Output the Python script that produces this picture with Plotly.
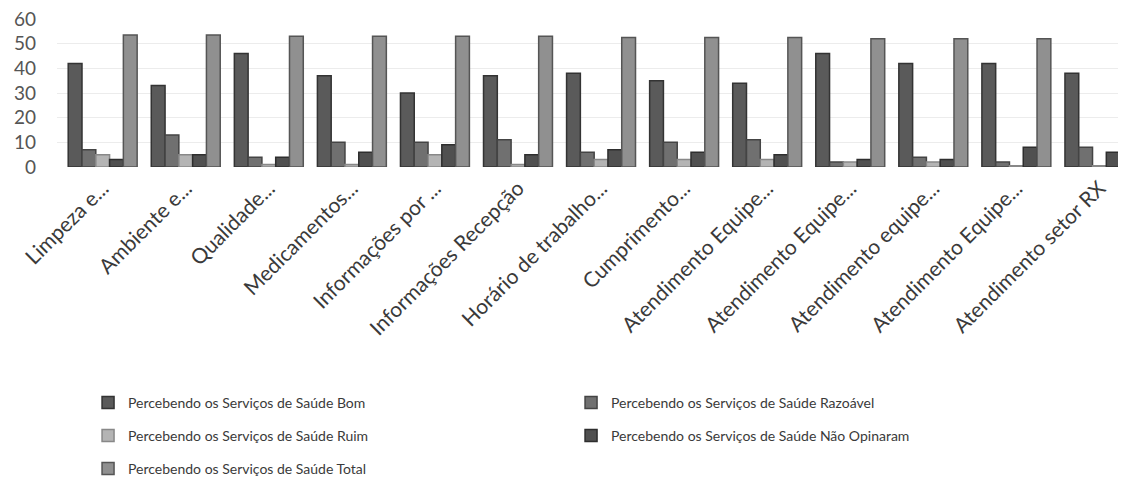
import plotly.graph_objects as go

categories = ["Limpeza e...", "Ambiente e...", "Qualidade...", "Medicamentos...",
              "Informações por ...", "Informações Recepção", "Horário de trabalho...",
              "Cumprimento...", "Atendimento Equipe...", "Atendimento Equipe...",
              "Atendimento equipe...", "Atendimento Equipe...", "Atendimento setor RX"]
cat_ids = list(range(len(categories)))

series_names = ["Percebendo os Serviços de Saúde Bom",
                "Percebendo os Serviços de Saúde Razoável",
                "Percebendo os Serviços de Saúde Ruim",
                "Percebendo os Serviços de Saúde Não Opinaram",
                "Percebendo os Serviços de Saúde Total"]

bom = [42, 33, 46, 37, 30, 37, 38, 35, 34, 46, 42, 42, 38]
razoavel = [7, 13, 4, 10, 10, 11, 6, 10, 11, 2, 4, 2, 8]
ruim = [5, 5, 1, 1, 5, 1, 3, 3, 3, 2, 2, 0.5, 0.5]
nao_opinaram = [3, 5, 4, 6, 9, 5, 7, 6, 5, 3, 3, 8, 6]
total = [53.5, 53.5, 53, 53, 53, 53, 52.5, 52.5, 52.5, 52, 52, 52, 51.5]

series_values = [bom, razoavel, ruim, nao_opinaram, total]
colors = ["#5a5a5a", "#707070", "#b4b4b4", "#505050", "#909090"]
line_colors = ["#333333", "#444444", "#888888", "#2e2e2e", "#555555"]
legend_ids = ["legend", "legend", "legend2", "legend2", "legend3"]

fig = go.Figure()
for name, vals, c, lc, lg in zip(series_names, series_values, colors, line_colors, legend_ids):
    fig.add_trace(go.Bar(x=cat_ids, y=vals, name=name, legend=lg,
                         marker=dict(color=c, line=dict(color=lc, width=1.5))))

legend_common = dict(orientation="h", xanchor="left", yanchor="middle",
                     xref="container", yref="container",
                     entrywidth=438, entrywidthmode="pixels",
                     font=dict(family="Lato, Open Sans, sans-serif", size=14, color="#3a3a3a"),
                     itemwidth=30, bgcolor="rgba(0,0,0,0)")

fig.update_layout(
    width=1118, height=485,
    paper_bgcolor="white", plot_bgcolor="white",
    barmode="group", bargap=0.17, bargroupgap=0.0,
    margin=dict(l=49, r=0, t=11, b=326, autoexpand=False),
    font=dict(family="Lato, Open Sans, sans-serif", color="#444444"),
    xaxis=dict(tickmode="array", tickvals=cat_ids, ticktext=categories,
               tickangle=-45, tickfont=dict(size=21, color="#3a3a3a"),
               showgrid=False, showline=False, zeroline=False,
               range=[-0.55, 12.32], automargin=False, ticks="",
               ticklabelstandoff=4, ticklabeloverflow="allow"),
    yaxis=dict(range=[0, 60], dtick=10, tickfont=dict(size=19, color="#555555"),
               showgrid=True, gridcolor="#ececec", gridwidth=1,
               zeroline=False, showline=False, automargin=False, ticks="",
               ticklabelstandoff=20, ticklabeloverflow="allow"),
    legend=dict(x=0.0716, y=0.1856, **legend_common),
    legend2=dict(x=0.0716, y=0.1175, **legend_common),
    legend3=dict(x=0.0716, y=0.0495, **legend_common),
    showlegend=True,
)

fig.write_html("out.html")
